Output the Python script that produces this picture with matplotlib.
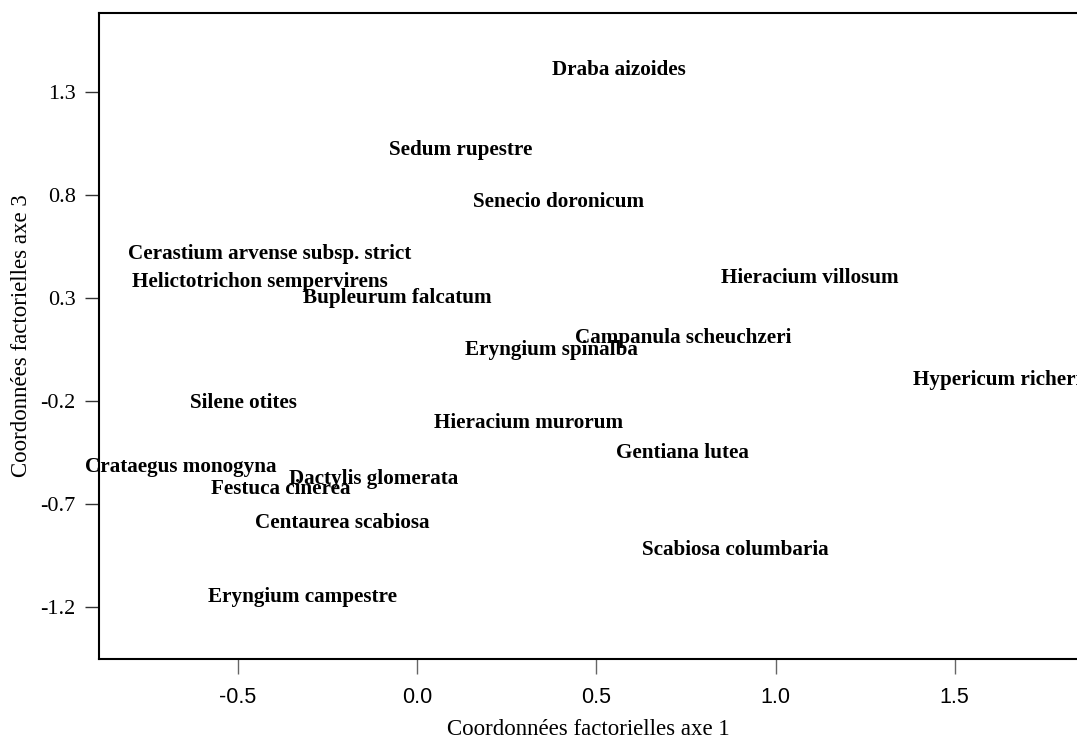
import matplotlib
matplotlib.use('Agg')
import matplotlib.pyplot as plt

# species coordinates on factorial axes 1 and 3
species = ['Draba aizoides', 'Sedum rupestre', 'Senecio doronicum',
           'Cerastium arvense subsp. strict', 'Helictotrichon sempervirens',
           'Bupleurum falcatum', 'Eryngium spinalba', 'Campanula scheuchzeri',
           'Hieracium villosum', 'Hypericum richeri', 'Silene otites',
           'Hieracium murorum', 'Gentiana lutea', 'Crataegus monogyna',
           'Dactylis glomerata', 'Festuca cinerea', 'Centaurea scabiosa',
           'Scabiosa columbaria', 'Eryngium campestre']
axe1 = [0.563, 0.122, 0.393, -0.412, -0.438, -0.057, 0.374, 0.742,
        1.095, 1.618, -0.486, 0.310, 0.740, -0.661, -0.123, -0.382,
        -0.208, 0.888, -0.320]
axe3 = [1.407, 1.018, 0.767, 0.513, 0.379, 0.298, 0.047, 0.104,
        0.395, -0.099, -0.209, -0.309, -0.455, -0.523, -0.581, -0.630,
        -0.792, -0.924, -1.151]

xticks = [-0.5, 0.0, 0.5, 1.0, 1.5]
yticks = [1.3, 0.8, 0.3, -0.2, -0.7, -1.2]

fig = plt.figure(figsize=(10.77, 7.40), dpi=100)
ax = fig.add_axes([98.7 / 1077, 81.3 / 740, (1078 - 98.7) / 1077, (658.7 - 13) / 740])

for name, x, y in zip(species, axe1, axe3):
    ax.text(x, y, name, ha='center', va='center', fontsize=15.2,
            fontweight='bold', family='Liberation Serif',
            clip_on=False, zorder=5)

ax.set_xlim(-0.889, 1.844)
ax.set_ylim(-1.4525, 1.684)

ax.spines['right'].set_visible(False)
for s in ['left', 'top', 'bottom']:
    ax.spines[s].set_linewidth(1.5)
    ax.spines[s].set_color('black')

ax.set_xticks(xticks)
ax.set_xticklabels(['%.1f' % v for v in xticks], family='Liberation Sans', fontsize=15.5)
ax.set_yticks(yticks)
ax.set_yticklabels(['%.1f' % v for v in yticks], family='Liberation Serif', fontsize=16)
ax.tick_params(axis='x', length=10.5, width=1, color='#666666', pad=10)
ax.tick_params(axis='y', length=10, width=1, color='#333333', pad=6.5)

ax.set_xlabel('Coordonnées factorielles axe 1', family='Liberation Serif', fontsize=16.5, labelpad=8)
ax.set_ylabel('Coordonnées factorielles axe 3', family='Liberation Serif', fontsize=16.5, labelpad=6)

fig.savefig('out.png', dpi=100)
